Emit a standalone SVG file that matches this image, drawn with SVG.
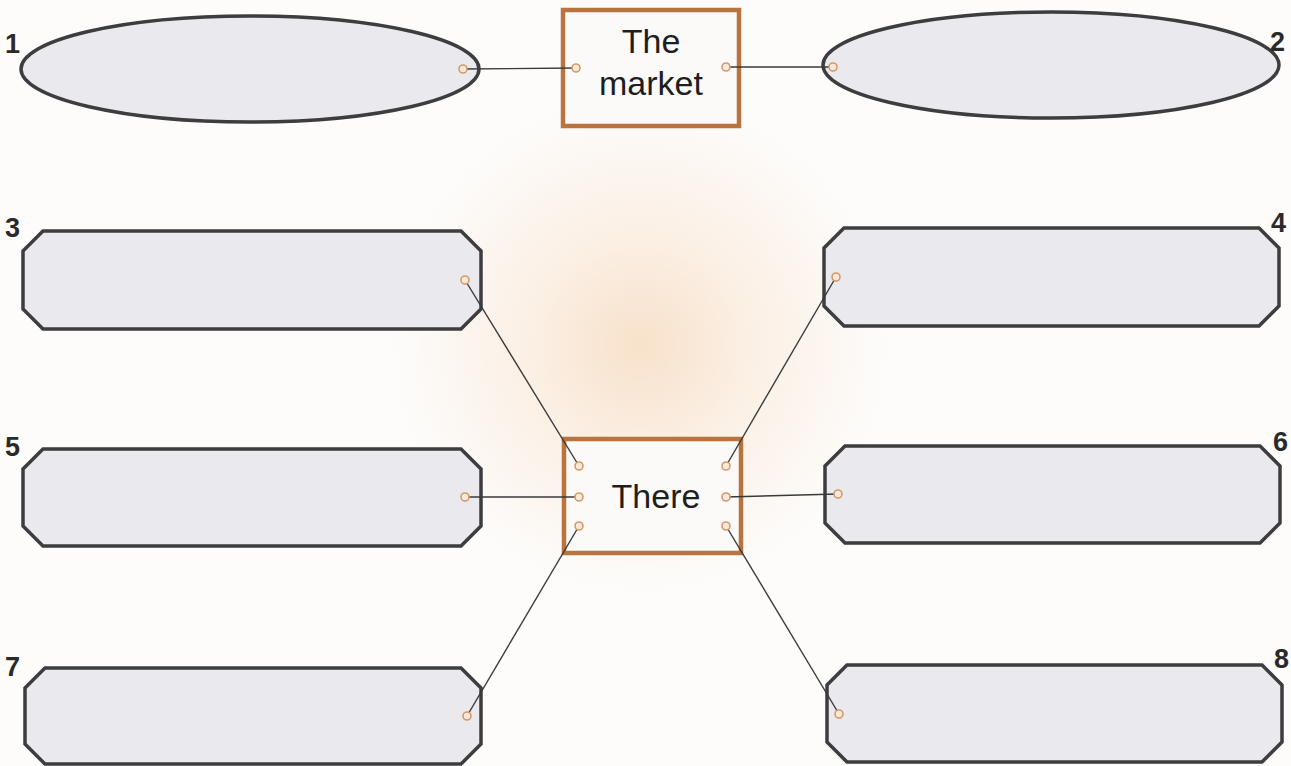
<svg xmlns="http://www.w3.org/2000/svg" width="1291" height="766" viewBox="0 0 1291 766">
<defs>
<radialGradient id="glow" cx="640" cy="345" r="250" gradientUnits="userSpaceOnUse">
<stop offset="0" stop-color="#f8e1ca"/>
<stop offset="0.45" stop-color="#fbf0e5"/>
<stop offset="1" stop-color="#fdfcfb"/>
</radialGradient>
<marker id="dot" markerUnits="userSpaceOnUse" markerWidth="12" markerHeight="12" refX="6" refY="6" viewBox="0 0 12 12">
<circle cx="6" cy="6" r="4" fill="#f6e9dc" stroke="#d49a68" stroke-width="1.6"/>
</marker>
</defs>
<style>
.shape{fill:#e9e9ee;stroke:#3d3d3f;stroke-width:3.5}
.box{fill:#fbfaf9;stroke:#b8733f;stroke-width:4.5}
.line{stroke:#3a3a3a;stroke-width:1.4;fill:none;marker-start:url(#dot);marker-end:url(#dot)}
.num{font-family:"Liberation Sans",Arial,sans-serif;font-weight:bold;font-size:27px;fill:#2a2a2a}
.lbl{font-family:"Liberation Sans",Arial,sans-serif;font-size:34px;fill:#1e1e1e;text-anchor:middle}
</style>
<rect width="1291" height="766" fill="#fdfcfb"/>
<rect width="1291" height="766" fill="url(#glow)"/>
<g id="node1">
<ellipse class="shape" cx="250" cy="69" rx="229" ry="53"/>
<text class="num" x="5" y="53">1</text>
</g>
<g id="node2">
<ellipse class="shape" cx="1051" cy="65" rx="228" ry="53"/>
<text class="num" x="1270" y="51">2</text>
</g>
<g id="market">
<rect class="box" x="563" y="10" width="176" height="116"/>
<text class="lbl" x="651" y="53">The</text>
<text class="lbl" x="651" y="95">market</text>
</g>
<g id="node3">
<polygon class="shape" points="43,231 461,231 481,251 481,309 461,329 43,329 23,309 23,251"/>
<text class="num" x="5" y="237">3</text>
</g>
<g id="node4">
<polygon class="shape" points="844,228 1259,228 1279,248 1279,306 1259,326 844,326 824,306 824,248"/>
<text class="num" x="1271" y="232">4</text>
</g>
<g id="node5">
<polygon class="shape" points="43,449 461,449 481,469 481,526 461,546 43,546 23,526 23,469"/>
<text class="num" x="5" y="456">5</text>
</g>
<g id="node6">
<polygon class="shape" points="845,446 1260,446 1280,466 1280,523 1260,543 845,543 825,523 825,466"/>
<text class="num" x="1273" y="451">6</text>
</g>
<g id="node7">
<polygon class="shape" points="45,668 461,668 481,688 481,744 461,764 45,764 25,744 25,688"/>
<text class="num" x="5" y="676">7</text>
</g>
<g id="node8">
<polygon class="shape" points="847,665 1262,665 1282,685 1282,742 1262,762 847,762 827,742 827,685"/>
<text class="num" x="1274" y="668">8</text>
</g>
<g id="there">
<rect class="box" x="564" y="439" width="177" height="114"/>
<text class="lbl" x="656" y="508">There</text>
</g>
<g id="connectors">
<line class="line" x1="463" y1="69" x2="576" y2="68"/>
<line class="line" x1="726" y1="67" x2="833" y2="67"/>
<line class="line" x1="465" y1="280" x2="579" y2="466"/>
<line class="line" x1="836" y1="277" x2="726" y2="466"/>
<line class="line" x1="465" y1="497" x2="579" y2="497"/>
<line class="line" x1="726" y1="497" x2="838" y2="494"/>
<line class="line" x1="467" y1="716" x2="579" y2="526"/>
<line class="line" x1="839" y1="714" x2="726" y2="526"/>
</g>
</svg>
